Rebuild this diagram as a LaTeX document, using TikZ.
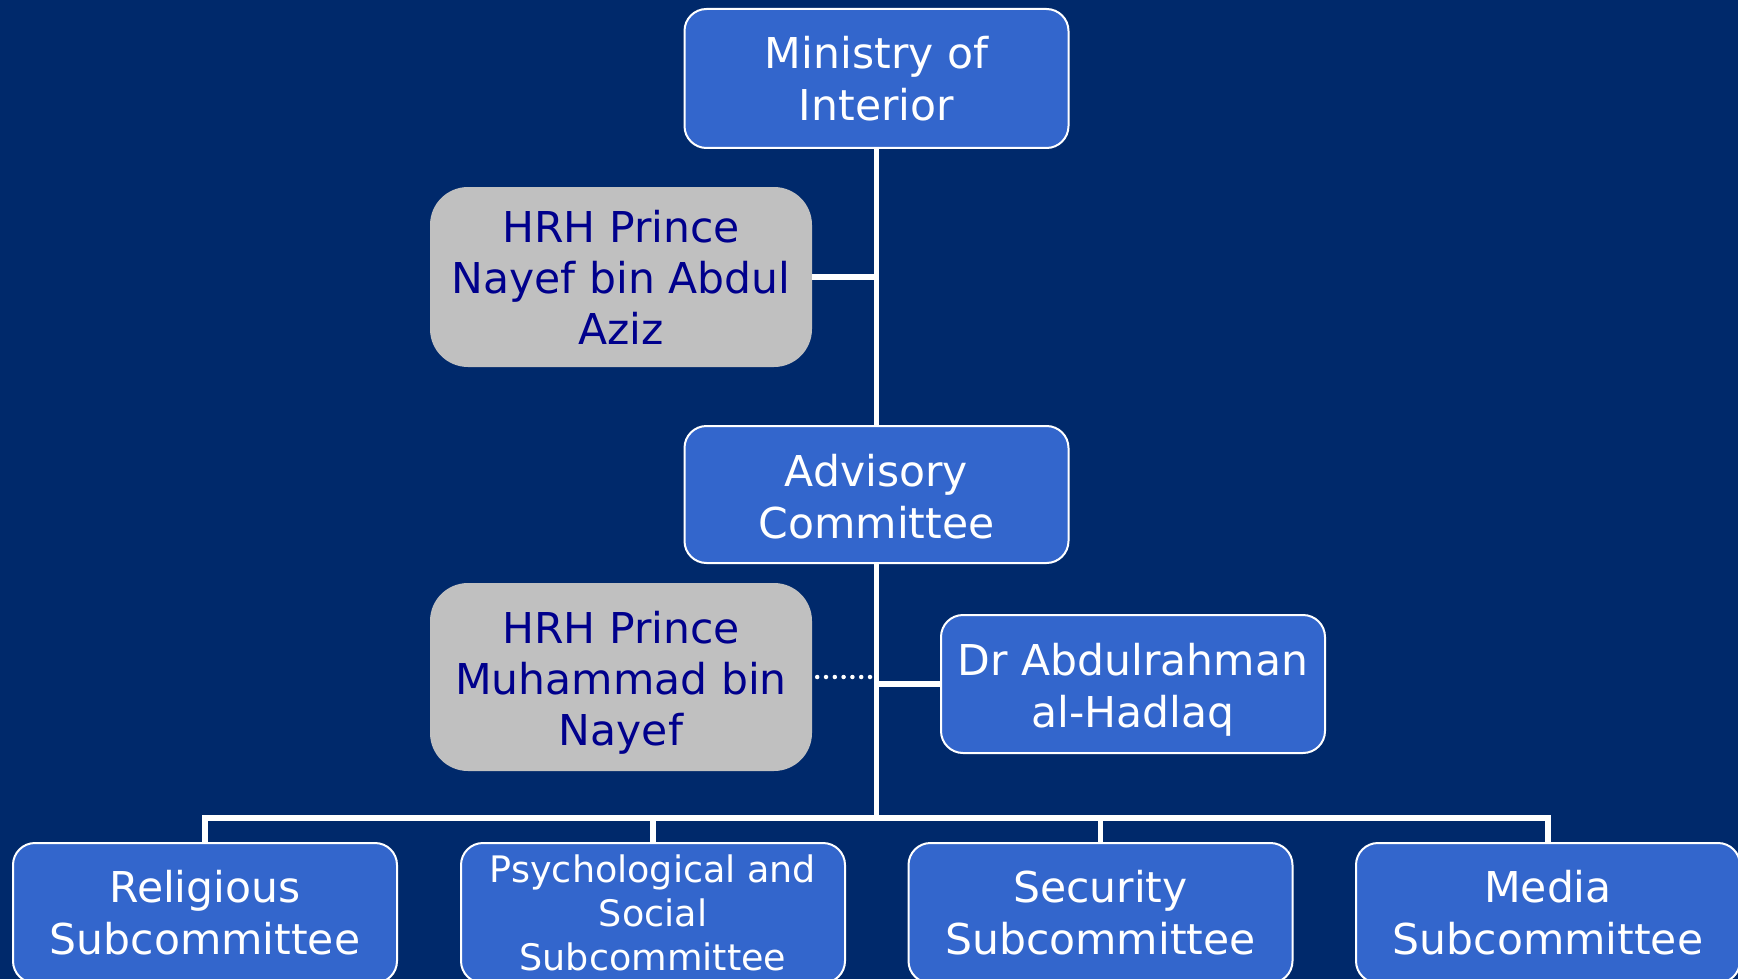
\documentclass[tikz,border=0pt]{standalone}
\usepackage{fontspec}
\setmainfont{DejaVu Sans}
\definecolor{bgnavy}{RGB}{0,41,107}
\definecolor{boxblue}{RGB}{51,102,204}
\definecolor{boxgray}{RGB}{192,192,192}
\definecolor{txtnavy}{RGB}{0,0,140}
\newcommand{\dropstrut}{\rule{0pt}{43pt}}
\begin{document}
\begin{tikzpicture}[x=1pt,y=-1pt,
  bluebox/.style={rectangle, rounded corners=22pt, draw=white, line width=2pt, fill=boxblue,
    text=white, align=center, inner sep=0pt, minimum width=384pt, minimum height=138pt,
    font=\fontsize{42.5}{52}\selectfont},
  graybox/.style={rectangle, rounded corners=38pt, fill=boxgray, draw=none,
    text=txtnavy, align=center, inner sep=0pt, minimum width=382pt,
    font=\fontsize{42.5}{51}\selectfont},
  subbox/.style={bluebox, anchor=north, minimum height=140pt},
  conn/.style={draw=white, line width=5.5pt},
  dotconn/.style={draw=white, line width=4.5pt, line cap=round, dash pattern=on 0pt off 8.8pt}
]
\clip (0,0) rectangle (1738,979);
\fill[bgnavy] (0,0) rectangle (1738,979);

\node[bluebox, minimum height=139pt] (min) at (876.5,78.5) {Ministry of\\Interior};
\node[graybox, minimum height=180pt] (nay) at (621,277) {HRH Prince\\Nayef bin Abdul\\Aziz};
\node[bluebox, minimum height=137pt] (adv) at (876.5,494.5) {\rule{0pt}{36pt}Advisory\\Committee};
\node[graybox, minimum height=188pt] (mu) at (621,677) {\dropstrut HRH Prince\\Muhammad bin\\Nayef};
\node[bluebox] (dr) at (1133,684) {\dropstrut Dr Abdulrahman\\al-Hadlaq};

\node[subbox] (s1) at (205,842) {Religious\\Subcommittee};
\node[subbox, font=\fontsize{36.5}{44}\selectfont] (s2) at (653,842) {Psychological and\\Social\\Subcommittee};
\node[subbox] (s3) at (1100.5,842) {Security\\Subcommittee};
\node[subbox] (s4) at (1548,842) {Media\\Subcommittee};

\coordinate (bus) at (876.5,818);

\draw[conn] (min.south) -- (adv.north);
\draw[conn] (nay.east) -- (nay.east -| min.south);
\draw[conn] (adv.south) -- (bus);
\draw[conn] (dr.west) -- (dr.west -| adv.south);
\draw[dotconn] ([xshift=5pt]mu.east) -- ([xshift=-4pt]mu.east -| adv.south);
\draw[conn] (s1.north) |- (bus);
\draw[conn] (s2.north) |- (bus);
\draw[conn] (s3.north) |- (bus);
\draw[conn] (s4.north) |- (bus);
\end{tikzpicture}
\end{document}
